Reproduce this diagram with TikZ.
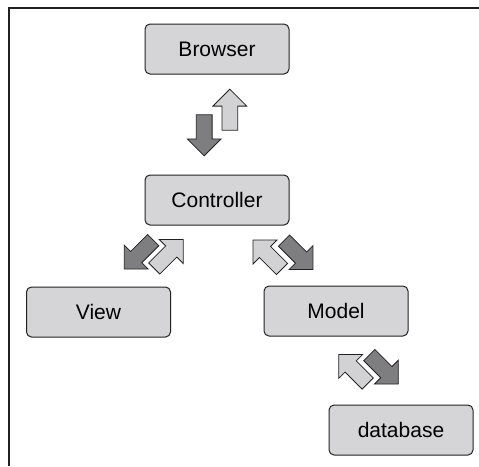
\documentclass[tikz,border=0pt]{standalone}
\usepackage{fontspec}
\setmainfont{Liberation Sans}
\usetikzlibrary{shapes.arrows, positioning, calc}

\definecolor{boxgray}{RGB}{213,213,215}
\definecolor{arrowdark}{RGB}{126,126,129}
\definecolor{arrowlight}{RGB}{210,210,212}
\definecolor{linegray}{RGB}{35,32,33}

\begin{document}
\begin{tikzpicture}[
    tier/.style={rectangle, rounded corners=5pt, minimum width=144pt, minimum height=50pt, text centered, draw=linegray, line width=1pt, fill=boxgray, font=\fontsize{21}{25}\selectfont},
    flow/.style={single arrow, draw=linegray, line width=0.8pt, minimum height=41pt, minimum width=33pt, single arrow head extend=9pt, inner xsep=0pt, inner ysep=7.5pt, anchor=tail},
    back/.style={flow, fill=arrowlight},
    forth/.style={flow, fill=arrowdark}
    ]
    \useasboundingbox (0,0) rectangle (479pt,-466pt);

    % Frame
    \draw[linegray, line width=1.5pt] (9pt,-466pt) |- (479pt,-8pt);

    % Tiers
    \node (browser) [tier] at (217pt,-49pt) {Browser};
    \node (controller) [tier, below=100pt of browser] {Controller};
    \node (view) [tier, below=61pt of controller, xshift=-118.5pt] {View};
    \node (model) [tier, below=60pt of controller, xshift=119pt] {Model};
    \node (database) [tier, below=68pt of model, xshift=65pt] {database};

    % Midpoints of the arrow pairs
    \coordinate (bc) at ($(browser.south)!0.5!(controller.north)+(0pt,2pt)$);
    \coordinate (cv) at ($(controller.south west)!0.5!(view.north east)+(-4pt,1.7pt)$);
    \coordinate (cm) at ($(controller.south east)!0.5!(model.north west)+(6.5pt,0.7pt)$);
    \coordinate (md) at ($(model.south east)!0.5!(database.north west)+(0pt,1.2pt)$);

    % Arrows (placed by their tails)
    \node (bc_down) [forth, rotate=-90] at ([shift={(-12.8pt,8.1pt)}]bc) {};
    \node (bc_up) [back, rotate=90] at ([shift={(12.8pt,-8.1pt)}]bc) {};
    \node (cv_down) [forth, rotate=225] at ([shift={(-0.2pt,14.5pt)}]cv) {};
    \node (cv_up) [back, rotate=45] at ([shift={(0.2pt,-14.5pt)}]cv) {};
    \node (cm_up) [back, rotate=135] at ([shift={(-0.7pt,-14.5pt)}]cm) {};
    \node (cm_down) [forth, rotate=-45] at ([shift={(0.7pt,14.5pt)}]cm) {};
    \node (md_up) [back, rotate=135] at ([shift={(-0.5pt,-14.5pt)}]md) {};
    \node (md_down) [forth, rotate=-45] at ([shift={(0.5pt,14.5pt)}]md) {};

\end{tikzpicture}
\end{document}
